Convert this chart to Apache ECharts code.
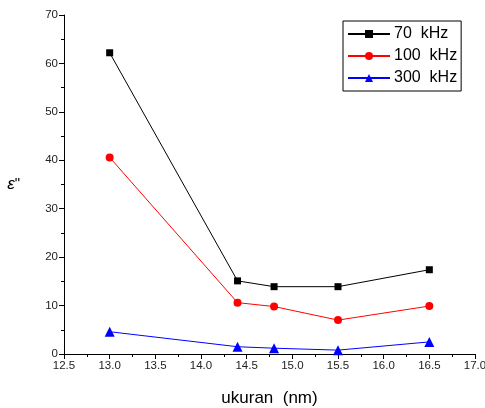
<!DOCTYPE html>
<html><head><meta charset="utf-8">
<script src="https://cdn.jsdelivr.net/npm/echarts@6/dist/echarts.min.js"></script>
<style>html,body{margin:0;padding:0;background:#fff}#c{width:485px;height:408px}</style>
</head><body><div id="c"></div>
<script>
const sizes = [13.0, 14.4, 14.8, 15.5, 16.5];
const s70 = [62.2, 15.1, 13.9, 13.9, 17.4];
const s100 = [40.6, 10.6, 9.8, 7.0, 9.9];
const s300 = [4.6, 1.5, 1.2, 0.8, 2.5];
const seriesNames = ['70  kHz', '100  kHz', '300  kHz'];
const xName = 'ukuran  (nm)';

const pair = (xs, ys) => xs.map((x, i) => [x, ys[i]]);
const chart = echarts.init(document.getElementById('c'));
const font = 'Arial, "Liberation Sans", sans-serif';
chart.setOption({
  animation: false,
  grid: { left: 64, right: 10, top: 15, bottom: 54, outerBoundsMode: 'none', containLabel: false },
  legend: {
    left: 343, top: 21, orient: 'vertical',
    backgroundColor: '#fff',
    borderColor: '#000', borderWidth: 1,
    padding: [5, 4, 5, 4],
    itemWidth: 42, itemHeight: 10, itemGap: 6,
    textStyle: { fontFamily: font, fontSize: 16, color: '#000', padding: [0, 0, 0, -1] },
    data: seriesNames
  },
  xAxis: {
    type: 'value', min: 12.5, max: 17, interval: 0.5,
    name: xName, nameLocation: 'middle', nameGap: 36,
    nameTextStyle: { fontFamily: font, fontSize: 17, color: '#000' },
    axisLine: { lineStyle: { color: '#000', width: 1 } },
    axisTick: { show: true, length: 5, lineStyle: { color: '#000' } },
    minorTick: { show: true, splitNumber: 2, length: 3, lineStyle: { color: '#000' } },
    splitLine: { show: false },
    axisLabel: { fontFamily: font, fontSize: 11.5, color: '#222', margin: 6, formatter: v => v.toFixed(1) }
  },
  yAxis: {
    type: 'value', min: 0, max: 70, interval: 10,
    name: '{e|ε}{q|"}', nameLocation: 'middle', nameGap: 44, nameRotate: 0,
    nameTextStyle: { rich: { e: { fontFamily: font, fontSize: 17, fontStyle: 'italic', color: '#000' }, q: { fontFamily: font, fontSize: 15, color: '#000', verticalAlign: 'top' } } },
    axisLine: { show: true, lineStyle: { color: '#000', width: 1 } },
    axisTick: { show: true, length: 5, lineStyle: { color: '#000' } },
    minorTick: { show: true, splitNumber: 2, length: 3, lineStyle: { color: '#000' } },
    splitLine: { show: false },
    axisLabel: { fontFamily: font, fontSize: 11.5, color: '#222', margin: 6 }
  },
  series: [
    { name: seriesNames[0], type: 'line', data: pair(sizes, s70), symbol: 'rect', symbolSize: 7,
      itemStyle: { color: '#000' }, lineStyle: { color: '#000', width: 1 } },
    { name: seriesNames[1], type: 'line', data: pair(sizes, s100), symbol: 'circle', symbolSize: 8,
      itemStyle: { color: '#ff0000' }, lineStyle: { color: '#ff0000', width: 1 } },
    { name: seriesNames[2], type: 'line', data: pair(sizes, s300), symbol: 'triangle', symbolSize: 10,
      itemStyle: { color: '#0000ff' }, lineStyle: { color: '#0000ff', width: 1 } }
  ]
});
</script></body></html>
